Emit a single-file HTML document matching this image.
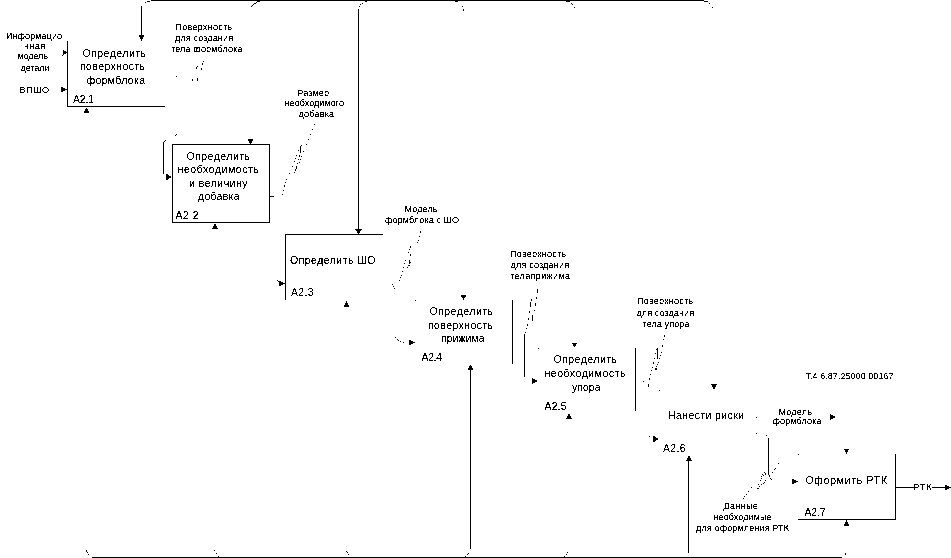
<!DOCTYPE html>
<html><head><meta charset="utf-8">
<style>
html,body{margin:0;padding:0;background:#fff;width:951px;height:558px;overflow:hidden}
svg{display:block}
text{font-family:"Liberation Sans",sans-serif;fill:#000}
</style></head><body>
<svg width="951" height="558" viewBox="0 0 951 558">
<defs><filter id="bt" filterUnits="userSpaceOnUse" x="0" y="0" width="951" height="558" color-interpolation-filters="sRGB"><feComponentTransfer><feFuncA type="discrete" tableValues="0 0 0 0 0 0 0 0 0 0 0 0 0 0 0 0 0 0 0 0 0 0 1 1 1 1 1 1 1 1 1 1 1 1 1 1 1 1 1 1 1 1 1 1 1 1 1 1 1 1"/></feComponentTransfer></filter><filter id="bs" filterUnits="userSpaceOnUse" x="0" y="0" width="951" height="558" color-interpolation-filters="sRGB"><feComponentTransfer><feFuncA type="discrete" tableValues="0 0 0 0 0 0 0 0 0 0 0 0 0 0 0 0 0 0 0 0 0 1 1 1 1 1 1 1 1 1 1 1 1 1 1 1 1 1 1 1 1 1 1 1 1 1 1 1 1 1"/></feComponentTransfer></filter></defs>
<g stroke="#000" stroke-width="1" fill="none" shape-rendering="crispEdges">
<path d="M151 0.5H704"/>
<path d="M92 557.5H842"/>
<path d="M141.5 6V36"/>
<path d="M358.5 9V229"/>
<path d="M67.5 41V106.5H165"/>
<path d="M172.5 144.5H269.5V222.5H172.5Z"/>
<path d="M270 196.5H274"/>
<path d="M163.5 142V174"/>
<path d="M285.5 300V234.5H383"/>
<path d="M470.5 369V549"/>
<path d="M512.5 300V364"/>
<path d="M524.5 334V377"/>
<path d="M635.5 348V411"/>
<path d="M688.5 460V553"/>
<path d="M895.5 454V519.5H798"/>
<path d="M895.5 487.5H914"/>
<path d="M932 487.5H946"/>
<path d="M768.5 438V475"/>
</g>
<g fill="#000" shape-rendering="crispEdges">
<path d="M138.25 35.00h6.5l-3.25 6zM355.00 229.00h7l-3.50 5.5zM247.50 139.00h6l-3.00 5.5zM460.50 295.00h6l-3.00 5zM571.50 342.50h6l-3.00 5zM711.00 384.00h6l-3.00 5.5zM843.50 448.50h6l-3.00 5.5zM83.75 112.50h5.5l-2.75 -5zM212.00 228.50h6l-3.00 -5zM343.50 307.00h6l-3.00 -6zM467.50 370.00h6l-3.00 -5.5zM566.00 419.00h6l-3.00 -5.5zM686.00 460.50h6l-3.00 -5.5zM843.50 526.00h6l-3.00 -6zM62.50 49.50l5 3.00l-5 3.00zM61.00 86.25l6 3.25l-6 3.25zM166.00 173.50l6 3.50l-6 3.50zM279.00 280.25l6 3.25l-6 3.25zM409.00 339.25l6 3.25l-6 3.25zM532.00 377.75l6 3.25l-6 3.25zM653.00 435.50l6 3.50l-6 3.50zM830.00 413.75l6 3.25l-6 3.25zM792.00 478.25l6 3.25l-6 3.25zM945.00 484.25l6 3.25l-6 3.25z"/>
</g>
<path shape-rendering="crispEdges" fill="#000" d="M145 2h1v1h-1zM147 1h3v1h-3zM251 6h1v1h-1zM252 5h1v1h-1zM253 4h1v1h-1zM254 3h2v1h-2zM256 2h1v1h-1zM257 1h3v1h-3zM359 6h1v1h-1zM360 4h1v1h-1zM362 3h1v1h-1zM365 1h2v1h-2zM455 1h3v1h-3zM462 6h1v1h-1zM463 9h1v2h-1zM566 1h4v1h-4zM571 3h1v1h-1zM572 4h1v1h-1zM574 7h1v1h-1zM704 1h4v1h-4zM709 3h1v1h-1zM712 7h1v1h-1zM86 550h1v2h-1zM87 552h1v1h-1zM88 554h1v1h-1zM214 550h1v1h-1zM216 553h1v1h-1zM218 556h1v1h-1zM346 551h1v1h-1zM347 552h1v1h-1zM348 554h1v1h-1zM467 554h1v1h-1zM468 553h1v1h-1zM465 556h1v1h-1zM567 552h1v1h-1zM566 554h1v1h-1zM564 556h1v1h-1zM845 553h1v2h-1zM203 61h1v1h-1zM202 63h1v2h-1zM197 66h1v1h-1zM196 67h1v2h-1zM201 68h1v2h-1zM176 76h1v1h-1zM192 79h1v2h-1zM197 78h1v3h-1zM164 141h1v1h-1zM165 140h1v1h-1zM175 135h1v1h-1zM176 134h1v1h-1zM314 124h1v1h-1zM312 129h1v1h-1zM310 134h1v1h-1zM308 139h1v1h-1zM306 144h1v1h-1zM301 145h1v1h-1zM300 146h1v7h-1zM298 150h1v1h-1zM303 151h1v1h-1zM296 155h1v1h-1zM299 155h1v2h-1zM301 156h1v1h-1zM295 158h1v1h-1zM298 159h1v1h-1zM300 159h1v1h-1zM294 161h1v1h-1zM299 162h1v1h-1zM297 163h1v1h-1zM292 166h1v1h-1zM296 166h1v3h-1zM295 169h1v2h-1zM294 172h1v1h-1zM289 173h1v1h-1zM286 179h1v1h-1zM285 182h1v1h-1zM284 185h1v2h-1zM283 190h1v1h-1zM282 194h1v1h-1zM277 280h1v1h-1zM278 281h2v1h-2zM420 231h1v2h-1zM419 236h1v1h-1zM418 240h1v1h-1zM417 242h1v1h-1zM410 246h1v2h-1zM409 249h1v1h-1zM408 252h1v1h-1zM410 254h1v2h-1zM405 260h1v1h-1zM409 260h1v4h-1zM410 262h1v1h-1zM404 263h1v1h-1zM408 265h2v1h-2zM403 267h1v1h-1zM407 267h1v1h-1zM402 271h1v1h-1zM401 275h1v1h-1zM400 277h1v1h-1zM399 280h1v1h-1zM392 284h1v1h-1zM393 286h1v1h-1zM394 288h1v1h-1zM415 300h1v1h-1zM395 337h1v1h-1zM397 339h1v1h-1zM398 340h1v1h-1zM400 341h1v1h-1zM403 342h1v1h-1zM536 280h1v1h-1zM537 289h1v4h-1zM536 297h1v2h-1zM531 299h1v2h-1zM530 302h1v5h-1zM535 303h1v3h-1zM534 310h1v1h-1zM529 311h1v2h-1zM532 315h1v6h-1zM528 318h1v2h-1zM527 324h1v2h-1zM526 328h1v1h-1zM525 332h1v1h-1zM538 348h1v1h-1zM666 328h1v1h-1zM664 335h1v2h-1zM663 339h1v1h-1zM662 345h1v2h-1zM657 348h1v11h-1zM656 349h1v1h-1zM661 352h1v1h-1zM655 353h1v1h-1zM660 355h1v1h-1zM654 358h1v1h-1zM659 358h1v1h-1zM653 362h1v2h-1zM658 362h1v1h-1zM657 364h1v1h-1zM652 367h1v1h-1zM655 368h2v2h-2zM656 366h1v1h-1zM651 370h1v1h-1zM650 374h1v1h-1zM649 378h1v2h-1zM643 381h1v1h-1zM648 384h1v3h-1zM659 390h1v1h-1zM649 436h1v1h-1zM756 417h1v1h-1zM756 433h1v1h-1zM766 435h1v1h-1zM798 454h1v1h-1zM778 463h1v1h-1zM775 468h1v1h-1zM774 469h1v1h-1zM772 472h1v1h-1zM764 472h1v1h-1zM765 473h1v2h-1zM762 474h1v1h-1zM763 475h1v1h-1zM761 476h1v1h-1zM769 475h1v2h-1zM761 478h1v1h-1zM770 478h1v1h-1zM771 479h1v1h-1zM760 480h1v1h-1zM765 480h1v1h-1zM764 482h1v1h-1zM763 483h1v1h-1zM758 484h1v1h-1zM761 484h1v1h-1zM759 486h1v1h-1zM751 487h1v1h-1zM757 488h2v1h-2zM748 491h1v1h-1zM746 494h1v1h-1zM744 496h1v1h-1zM743 498h1v1h-1z"/>
<g filter="url(#bt)">
<text x="82.5" y="57.0" font-size="10.5" textLength="63.5" lengthAdjust="spacing">Определить</text>
<text x="80.0" y="70.3" font-size="10.5" textLength="65.0" lengthAdjust="spacing">поверхность</text>
<text x="86.5" y="83.5" font-size="10.5" textLength="58.5" lengthAdjust="spacing">формблока</text>
<text x="73.0" y="103.0" font-size="10.5" textLength="21.0" lengthAdjust="spacing">A2.1</text>
<text x="186.5" y="159.8" font-size="10.5" textLength="63.5" lengthAdjust="spacing">Определить</text>
<text x="177.5" y="172.9" font-size="10.5" textLength="81.5" lengthAdjust="spacing">необходимость</text>
<text x="189.0" y="186.6" font-size="10.5" textLength="58.5" lengthAdjust="spacing">и величину</text>
<text x="198.0" y="199.7" font-size="10.5" textLength="41.5" lengthAdjust="spacing">добавка</text>
<text x="175.5" y="218.8" font-size="10.5" textLength="23.0" lengthAdjust="spacing">A2 2</text>
<text x="290.0" y="264.0" font-size="10.5" textLength="85.5" lengthAdjust="spacing">Определить ШО</text>
<text x="291.0" y="295.9" font-size="10.5" textLength="22.5" lengthAdjust="spacing">A2.3</text>
<text x="429.5" y="314.9" font-size="10.5" textLength="63.5" lengthAdjust="spacing">Определить</text>
<text x="428.0" y="328.7" font-size="10.5" textLength="65.0" lengthAdjust="spacing">поверхность</text>
<text x="441.0" y="341.8" font-size="10.5" textLength="43.5" lengthAdjust="spacing">прижима</text>
<text x="421.5" y="360.5" font-size="10.5" textLength="20.5" lengthAdjust="spacing">A2.4</text>
<text x="553.5" y="362.8" font-size="10.5" textLength="63.5" lengthAdjust="spacing">Определить</text>
<text x="544.5" y="377.0" font-size="10.5" textLength="81.0" lengthAdjust="spacing">необходимость</text>
<text x="572.0" y="390.7" font-size="10.5" textLength="28.5" lengthAdjust="spacing">упора</text>
<text x="544.5" y="409.6" font-size="10.5" textLength="22.0" lengthAdjust="spacing">A2.5</text>
<text x="668.0" y="419.2" font-size="10.5" textLength="76.0" lengthAdjust="spacing">Нанести риски</text>
<text x="663.0" y="451.8" font-size="10.5" textLength="22.5" lengthAdjust="spacing">A2.6</text>
<text x="805.5" y="484.2" font-size="10.5" textLength="81.5" lengthAdjust="spacing">Оформить РТК</text>
<text x="804.5" y="516.0" font-size="10.5" textLength="21.0" lengthAdjust="spacing">A2.7</text>
</g>
<g filter="url(#bs)">
<text x="6.0" y="39.0" font-size="9" textLength="56.0" lengthAdjust="spacing">Информацио</text>
<text x="24.0" y="48.8" font-size="9" textLength="21.0" lengthAdjust="spacing">нная</text>
<text x="17.5" y="59.2" font-size="9" textLength="30.5" lengthAdjust="spacing">модель</text>
<text x="20.5" y="70.6" font-size="9" textLength="29.0" lengthAdjust="spacing">детали</text>
<text x="19.5" y="92.8" font-size="9" textLength="29.5" lengthAdjust="spacing">ВПШО</text>
<text x="175.5" y="29.6" font-size="9" textLength="56.5" lengthAdjust="spacing">Поверхность</text>
<text x="175.0" y="40.9" font-size="9" textLength="58.0" lengthAdjust="spacing">для создания</text>
<text x="171.0" y="51.6" font-size="9" textLength="71.5" lengthAdjust="spacing">тела формблока</text>
<text x="297.5" y="95.8" font-size="9" textLength="31.5" lengthAdjust="spacing">Размер</text>
<text x="284.5" y="106.4" font-size="9" textLength="59.5" lengthAdjust="spacing">необходимого</text>
<text x="298.5" y="116.7" font-size="9" textLength="35.5" lengthAdjust="spacing">добавка</text>
<text x="404.5" y="212.1" font-size="9" textLength="33.0" lengthAdjust="spacing">Модель</text>
<text x="385.0" y="223.4" font-size="9" textLength="74.0" lengthAdjust="spacing">формблока с ШО</text>
<text x="510.0" y="257.0" font-size="9" textLength="56.0" lengthAdjust="spacing">Поверхность</text>
<text x="510.5" y="268.1" font-size="9" textLength="58.5" lengthAdjust="spacing">для создания</text>
<text x="510.0" y="278.7" font-size="9" textLength="60.0" lengthAdjust="spacing">телаприжима</text>
<text x="637.0" y="304.4" font-size="9" textLength="56.0" lengthAdjust="spacing">Поверхность</text>
<text x="636.5" y="315.7" font-size="9" textLength="57.5" lengthAdjust="spacing">для создания</text>
<text x="642.5" y="326.6" font-size="9" textLength="47.0" lengthAdjust="spacing">тела упора</text>
<text x="805.5" y="378.9" font-size="9" textLength="88.0" lengthAdjust="spacing">Т.4.6.87.25000.00167</text>
<text x="778.5" y="414.9" font-size="9" textLength="33.5" lengthAdjust="spacing">Модель</text>
<text x="772.5" y="423.9" font-size="9" textLength="49.0" lengthAdjust="spacing">формблока</text>
<text x="723.5" y="509.1" font-size="9" textLength="34.5" lengthAdjust="spacing">Данные</text>
<text x="713.5" y="519.8" font-size="9" textLength="58.0" lengthAdjust="spacing">необходимые</text>
<text x="696.0" y="530.9" font-size="9" textLength="93.0" lengthAdjust="spacing">для оформления РТК</text>
<text x="913.3" y="490.3" font-size="9" textLength="18.5" lengthAdjust="spacing">РТК</text>
</g>
</svg>
</body></html>
